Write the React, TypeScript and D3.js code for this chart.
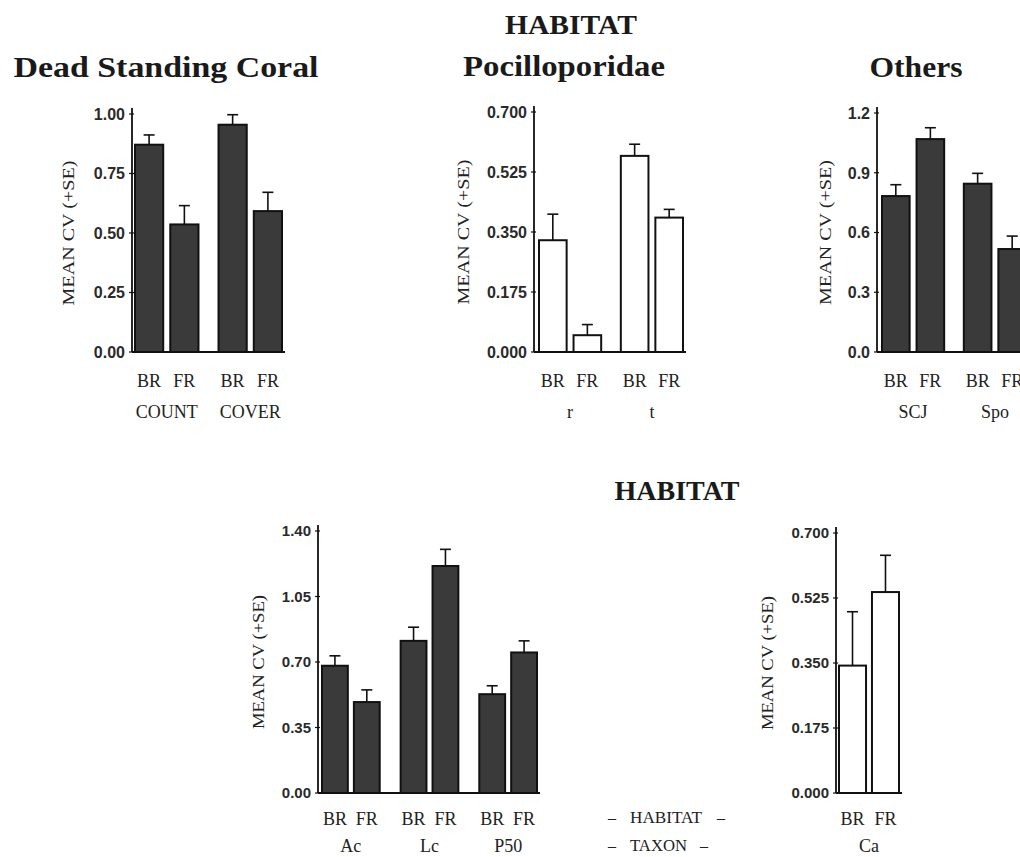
import React from "react";
import * as d3 from "d3";

// ---------- data ----------
const habitats = ["BR", "FR"];

const deadGroups = ["COUNT", "COVER"];
const deadMean = [0.871, 0.536, 0.955, 0.592];
const deadSE = [0.041, 0.079, 0.042, 0.079];
const deadTicks = [0, 0.25, 0.5, 0.75, 1.0];

const pociGroups = ["r", "t"];
const pociMean = [0.326, 0.049, 0.572, 0.392];
const pociSE = [0.076, 0.031, 0.034, 0.024];
const pociTicks = [0, 0.175, 0.35, 0.525, 0.7];

const otherGroups = ["SCJ", "Spo"];
const otherMean = [0.783, 1.069, 0.845, 0.517];
const otherSE = [0.057, 0.057, 0.052, 0.065];
const otherTicks = [0, 0.3, 0.6, 0.9, 1.2];

const taxonGroups = ["Ac", "Lc", "P50"];
const taxonMean = [0.68, 0.486, 0.813, 1.213, 0.528, 0.751];
const taxonSE = [0.053, 0.065, 0.073, 0.089, 0.045, 0.062];
const taxonTicks = [0, 0.35, 0.7, 1.05, 1.4];

const caGroups = ["Ca"];
const caMean = [0.343, 0.541];
const caSE = [0.145, 0.099];
const caTicks = [0, 0.175, 0.35, 0.525, 0.7];

const yLabel = "MEAN CV (+SE)";

const SERIF = "'Liberation Serif', 'DejaVu Serif', serif";
const SANS = "'Liberation Sans', Arial, sans-serif";

type PanelProps = {
  groups: string[];
  mean: number[];
  se: number[];
  ticks: number[];
  fmt: string;
  max: number;
  axisX: number;
  y0: number;
  yTop: number;
  x0: number;
  x1: number;
  outerPad: number;
  innerPad: number;
  labelX: number;
  labelLen: number;
  hollow: boolean;
  habDy: number;
  grpDy: number;
  tickSize: number;
};

function Panel(p: PanelProps) {
  const y = d3.scaleLinear().domain([0, p.max]).range([p.y0, p.yTop]);
  const gx = d3
    .scaleBand<string>()
    .domain(p.groups)
    .range([p.x0, p.x1])
    .paddingInner(p.outerPad)
    .paddingOuter(0);
  const hx = d3
    .scaleBand<string>()
    .domain(habitats)
    .range([0, gx.bandwidth()])
    .paddingInner(p.innerPad)
    .paddingOuter(0);
  const f = d3.format(p.fmt);
  const bw = hx.bandwidth();
  const cap = 11;
  const bars: any[] = [];
  p.groups.forEach((g, gi) => {
    habitats.forEach((h, hi) => {
      const i = gi * habitats.length + hi;
      const bx = (gx(g) as number) + (hx(h) as number);
      bars.push({ g, h, i, bx, m: p.mean[i], s: p.se[i] });
    });
  });
  const midY = (p.y0 + p.yTop) / 2;
  return (
    <g>
      {bars.map((b) => {
        const cx = b.bx + bw / 2;
        const top = y(b.m + b.s);
        return (
          <g key={b.i}>
            <line x1={cx} x2={cx} y1={y(b.m)} y2={top} stroke="#111" strokeWidth={1.6} />
            <line x1={cx - cap / 2} x2={cx + cap / 2} y1={top} y2={top} stroke="#111" strokeWidth={1.6} />
            <rect
              x={b.bx}
              y={y(b.m)}
              width={bw}
              height={p.y0 - y(b.m)}
              fill={p.hollow ? "#fff" : "#3a3a3a"}
              stroke="#111"
              strokeWidth={2}
            />
          </g>
        );
      })}
      {/* axes */}
      <line x1={p.axisX} x2={p.axisX} y1={p.yTop - 6} y2={p.y0} stroke="#111" strokeWidth={1.8} />
      <line x1={p.axisX} x2={p.x1 + 3} y1={p.y0} y2={p.y0} stroke="#111" strokeWidth={1.8} />
      {p.ticks.map((t) => (
        <g key={t}>
          <line x1={p.axisX - 3} x2={p.axisX + 2} y1={y(t)} y2={y(t)} stroke="#111" strokeWidth={1.2} />
          <text
            x={p.axisX - 7}
            y={y(t)}
            dy="0.36em"
            textAnchor="end"
            fontFamily={SANS}
            fontWeight="bold"
            fontSize={p.tickSize}
            fill="#2a2a2a"
          >
            {f(t)}
          </text>
        </g>
      ))}
      <text
        transform={`translate(${p.labelX},${midY}) rotate(-90)`}
        textAnchor="middle"
        dy="0.35em"
        fontFamily={SERIF}
        fontSize={17}
        fill="#222"
        textLength={p.labelLen}
        lengthAdjust="spacingAndGlyphs"
      >
        {yLabel}
      </text>
      {bars.map((b) => (
        <text
          key={"h" + b.i}
          x={b.bx + bw / 2}
          y={p.y0 + p.habDy}
          textAnchor="middle"
          fontFamily={SERIF}
          fontSize={18}
          fill="#222"
        >
          {b.h}
        </text>
      ))}
      {p.groups.map((g) => (
        <text
          key={"g" + g}
          x={(gx(g) as number) + gx.bandwidth() / 2}
          y={p.y0 + p.grpDy}
          textAnchor="middle"
          fontFamily={SERIF}
          fontSize={18}
          fill="#222"
        >
          {g}
        </text>
      ))}
    </g>
  );
}

function Title({ x, y, w, size, children }: any) {
  return (
    <text
      x={x}
      y={y}
      textAnchor="middle"
      fontFamily={SERIF}
      fontWeight="bold"
      fontSize={size}
      fill="#1a1a1a"
      textLength={w}
      lengthAdjust="spacingAndGlyphs"
    >
      {children}
    </text>
  );
}

export default function App() {
  return (
    <svg
      width={1020}
      height={857}
      viewBox="0 0 1020 857"
      style={{ position: "absolute", left: 0, top: 0, background: "#fff" }}
    >
      <rect width={1020} height={857} fill="#fff" />
      <Title x={571} y={34} w={132} size={28}>HABITAT</Title>
      <Title x={166} y={77} w={305} size={30}>Dead Standing Coral</Title>
      <Title x={564} y={76} w={202} size={30}>Pocilloporidae</Title>
      <Title x={916} y={77} w={93} size={30}>Others</Title>
      <Title x={677} y={500} w={125} size={28}>HABITAT</Title>

      <Panel
        groups={deadGroups} mean={deadMean} se={deadSE} ticks={deadTicks} fmt=".2f" max={1.0}
        axisX={132} y0={352} yTop={114} x0={135} x1={282} outerPad={0.24} innerPad={0.2}
        labelX={68} labelLen={145} hollow={false} habDy={35} grpDy={66} tickSize={16}
      />
      <Panel
        groups={pociGroups} mean={pociMean} se={pociSE} ticks={pociTicks} fmt=".3f" max={0.7}
        axisX={534} y0={352} yTop={112} x0={539} x1={683} outerPad={0.24} innerPad={0.2}
        labelX={463} labelLen={145} hollow={true} habDy={35} grpDy={66} tickSize={16}
      />
      <Panel
        groups={otherGroups} mean={otherMean} se={otherSE} ticks={otherTicks} fmt=".1f" max={1.2}
        axisX={877} y0={352} yTop={113} x0={882} x1={1026} outerPad={0.24} innerPad={0.2}
        labelX={825} labelLen={145} hollow={false} habDy={35} grpDy={66} tickSize={16}
      />
      <Panel
        groups={taxonGroups} mean={taxonMean} se={taxonSE} ticks={taxonTicks} fmt=".2f" max={1.4}
        axisX={318} y0={793} yTop={531} x0={322} x1={537} outerPad={0.266} innerPad={0.19}
        labelX={258} labelLen={134} hollow={false} habDy={32} grpDy={59} tickSize={15}
      />
      <Panel
        groups={caGroups} mean={caMean} se={caSE} ticks={caTicks} fmt=".3f" max={0.7}
        axisX={836} y0={793} yTop={533} x0={839} x1={899} outerPad={0} innerPad={0.18}
        labelX={767} labelLen={134} hollow={true} habDy={32} grpDy={59} tickSize={15}
      />

      {/* key */}
      <g fontFamily={SERIF} fontSize={16} fill="#222">
        <text x={608} y={823}>–</text>
        <text x={630} y={823} textLength={72} lengthAdjust="spacingAndGlyphs">HABITAT</text>
        <text x={717} y={823}>–</text>
        <text x={608} y={851}>–</text>
        <text x={630} y={851} textLength={57} lengthAdjust="spacingAndGlyphs">TAXON</text>
        <text x={700} y={851}>–</text>
      </g>
    </svg>
  );
}
